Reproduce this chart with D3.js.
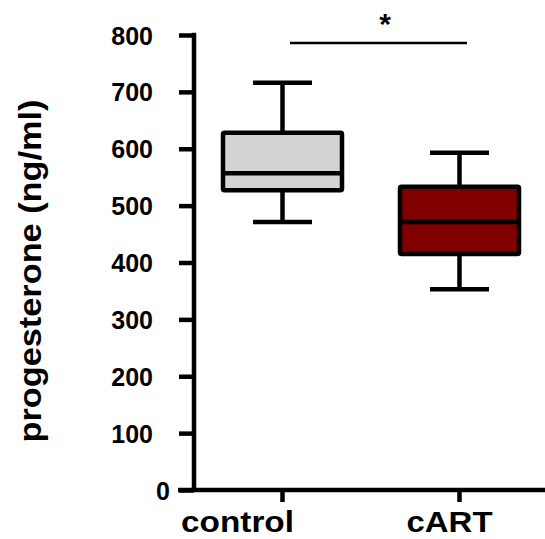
<!DOCTYPE html>
<html>
<head>
<meta charset="utf-8">
<script src="https://cdn.jsdelivr.net/npm/d3@7"></script>
<style>
  html, body { margin: 0; padding: 0; background: #fff; }
  svg { display: block; }
  text { font-family: "Liberation Sans", Arial, sans-serif; font-weight: bold; fill: #000; }
</style>
</head>
<body>
<svg id="chart" width="545" height="539"></svg>
<script>
// Box-plot summaries of progesterone (ng/ml) per group
const groups      = ["control", "cART"];
const whiskerLow  = [471, 353];
const quartile1   = [527, 415];
const medians     = [557, 471];
const quartile3   = [628, 533];
const whiskerHigh = [716, 593];
const boxFills    = ["#d3d3d3", "#800000"];
const yTicks      = [0, 100, 200, 300, 400, 500, 600, 700, 800];
const yTitle      = "progesterone (ng/ml)";
const sigMark     = "*";

const svg = d3.select("#chart");

const y = d3.scaleLinear().domain([0, 800]).range([490, 35]);
const x = d3.scalePoint().domain(groups).range([194, 548]).padding(0.5);

const boxW = 119, capW = 59, lw = 4.5;

// y axis
const yAxis = svg.append("g")
  .attr("transform", "translate(194,0)")
  .call(d3.axisLeft(y).tickValues(yTicks).tickSize(15).tickSizeOuter(0).tickPadding(26));
yAxis.select(".domain").remove();
yAxis.selectAll(".tick line").attr("stroke", "#000").attr("stroke-width", lw);
yAxis.selectAll(".tick text")
  .attr("font-size", 25)
  .attr("font-family", "Liberation Sans, Arial, sans-serif")
  .attr("font-weight", "bold")
  .attr("fill", "#000")
  .attr("dy", "0.36em")
  .attr("dx", d => d === 0 ? 17 : 0);
svg.append("line")
  .attr("x1", 194).attr("x2", 194)
  .attr("y1", y(800) - lw / 2).attr("y2", y(0))
  .attr("stroke", "#000").attr("stroke-width", lw);

// x axis
svg.append("line")
  .attr("x1", 178).attr("x2", 545)
  .attr("y1", y(0)).attr("y2", y(0))
  .attr("stroke", "#000").attr("stroke-width", lw);
svg.selectAll(".xtick").data(groups).join("line")
  .attr("class", "xtick")
  .attr("x1", d => x(d)).attr("x2", d => x(d))
  .attr("y1", y(0)).attr("y2", y(0) + 12)
  .attr("stroke", "#000").attr("stroke-width", lw);
const labelShift = { control: -45, cART: -10 };
const labelWidth = { control: 113, cART: 86 };
svg.selectAll(".xlab").data(groups).join("text")
  .attr("class", "xlab")
  .attr("x", d => x(d) + labelShift[d])
  .attr("y", 532)
  .attr("text-anchor", "middle")
  .attr("font-size", 30)
  .attr("textLength", d => labelWidth[d])
  .attr("lengthAdjust", "spacingAndGlyphs")
  .text(d => d);

// y title
svg.append("text")
  .attr("transform", "translate(41,271) rotate(-90)")
  .attr("text-anchor", "middle")
  .attr("font-size", 31)
  .attr("textLength", 343)
  .attr("lengthAdjust", "spacingAndGlyphs")
  .text(yTitle);

// boxes
const boxes = svg.selectAll(".box").data(groups).join("g").attr("class", "box");
boxes.append("line")
  .attr("x1", d => x(d)).attr("x2", d => x(d))
  .attr("y1", (d, i) => y(whiskerHigh[i])).attr("y2", (d, i) => y(whiskerLow[i]))
  .attr("stroke", "#000").attr("stroke-width", lw);
boxes.append("line")
  .attr("x1", d => x(d) - capW / 2).attr("x2", d => x(d) + capW / 2)
  .attr("y1", (d, i) => y(whiskerHigh[i])).attr("y2", (d, i) => y(whiskerHigh[i]))
  .attr("stroke", "#000").attr("stroke-width", lw);
boxes.append("line")
  .attr("x1", d => x(d) - capW / 2).attr("x2", d => x(d) + capW / 2)
  .attr("y1", (d, i) => y(whiskerLow[i])).attr("y2", (d, i) => y(whiskerLow[i]))
  .attr("stroke", "#000").attr("stroke-width", lw);
boxes.append("rect")
  .attr("x", d => x(d) - boxW / 2)
  .attr("width", boxW)
  .attr("y", (d, i) => y(quartile3[i]))
  .attr("height", (d, i) => y(quartile1[i]) - y(quartile3[i]))
  .attr("fill", (d, i) => boxFills[i])
  .attr("stroke", "#000").attr("stroke-width", lw)
  .attr("rx", 1.5);
boxes.append("line")
  .attr("x1", d => x(d) - boxW / 2).attr("x2", d => x(d) + boxW / 2)
  .attr("y1", (d, i) => y(medians[i])).attr("y2", (d, i) => y(medians[i]))
  .attr("stroke", "#000").attr("stroke-width", lw);

// significance bar
svg.append("line")
  .attr("x1", 290).attr("x2", 467)
  .attr("y1", 43).attr("y2", 43)
  .attr("stroke", "#000").attr("stroke-width", 2.5);
svg.append("text")
  .attr("x", 385).attr("y", 34)
  .attr("text-anchor", "middle")
  .attr("font-size", 30)
  .text(sigMark);
</script>
</body>
</html>
